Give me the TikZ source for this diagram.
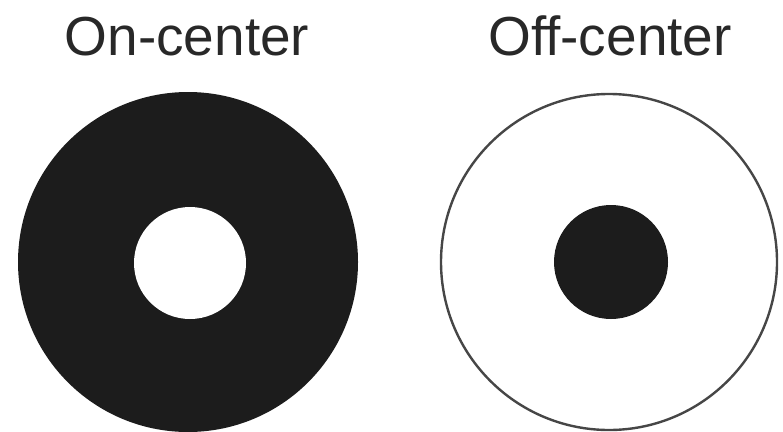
\documentclass[tikz,border=0pt]{standalone}
\usepackage{fontspec}
\setmainfont{Liberation Sans}
\usepackage{xcolor}
\usepackage{tikz}
\definecolor{rfBlack}{RGB}{ 28, 28, 28}
\definecolor{rfText}{RGB}{ 40, 40, 40}
\definecolor{rfRing}{RGB}{ 70, 70, 70}

\begin{document}
\begin{tikzpicture}[
  x=1pt, y=-1pt,
  title/.style={
    anchor=base, inner sep=0pt, text=rfText,
    font=\fontsize{55}{60}\selectfont
  },
  disc/.style={
    circle, inner sep=0pt, draw=none
  }
]
\useasboundingbox (0,0) rectangle (783,431);

\node[title] (tOn)  at (187,55) {On-center};
\node[title] (tOff) at (610,55) {Off-center};

% on-center field
\node[disc, fill=rfBlack, minimum size=340pt] (onSurr) at (188,262) {};
\node[disc, fill=white,   minimum size=112pt] (onCent) at (190,263) {};

% off-center field
\node[disc, fill=white, draw=rfRing, line width=2.4pt, minimum size=336pt] (offSurr) at (609,262) {};
\node[disc, fill=rfBlack, minimum size=114pt] (offCent) at (611,262) {};
\end{tikzpicture}
\end{document}
